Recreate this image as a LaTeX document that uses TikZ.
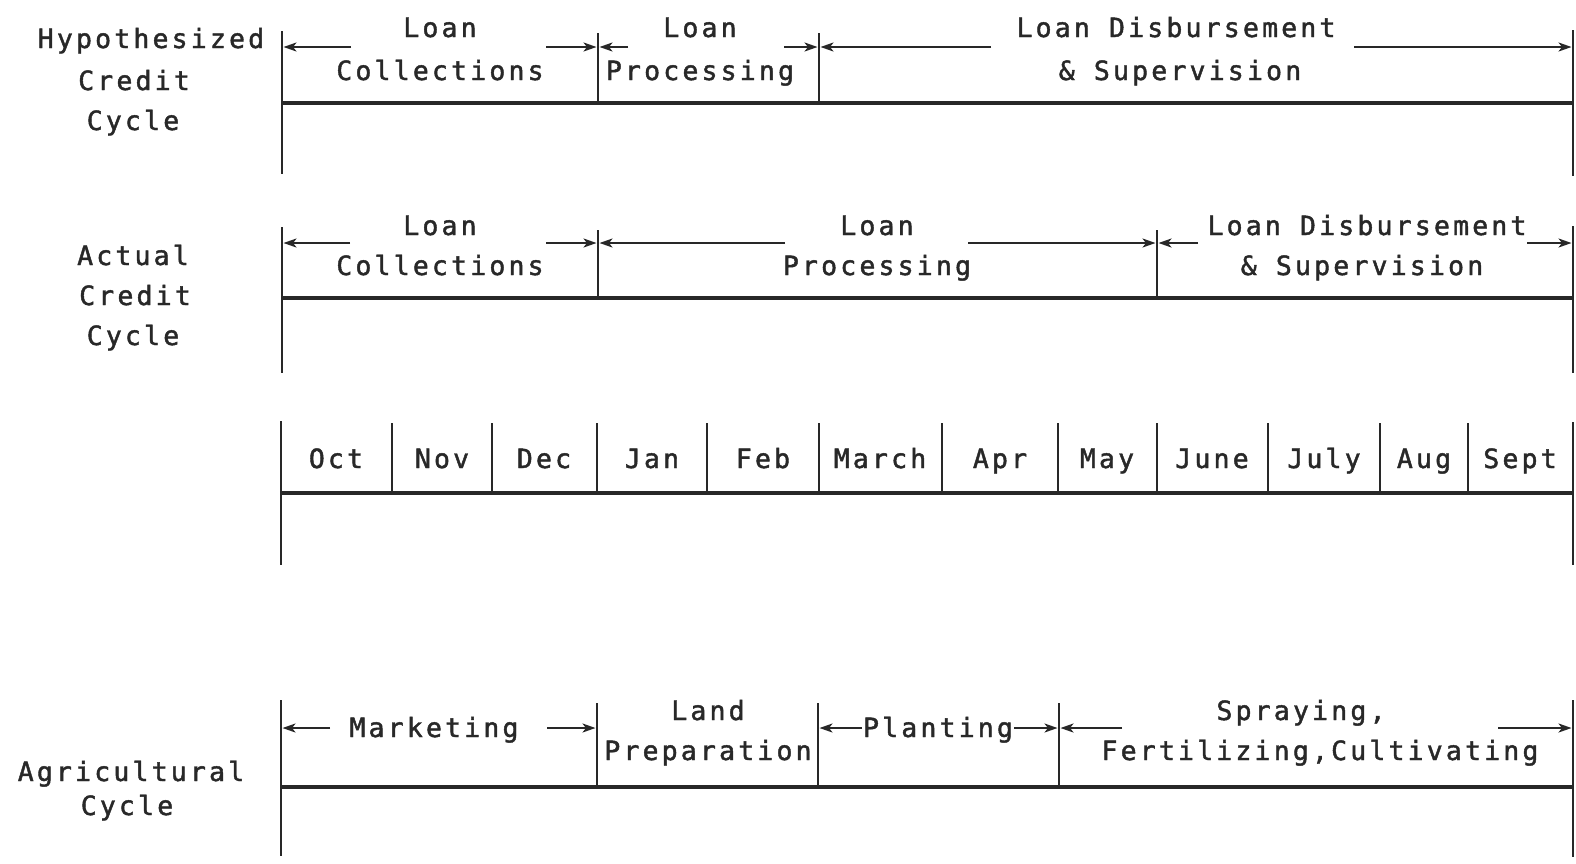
\documentclass[tikz,border=0pt]{standalone}
\usepackage{fontspec}
\newfontfamily\mono[LetterSpace=12,FakeBold=1.6]{DejaVu Sans Mono}
\usetikzlibrary{arrows.meta}
\definecolor{ink}{RGB}{40,40,40}
\begin{document}
\begin{tikzpicture}[x=1pt,y=-1pt,
  lbl/.style={font=\mono\fontsize{26.5}{31}\selectfont, text=ink, anchor=base, inner sep=0pt},
  axis/.style={line width=3.4pt, draw=ink},
  tick/.style={line width=2.4pt, draw=ink},
  dim/.style={line width=2.1pt, draw=ink, -{Stealth[length=13pt,width=9pt,inset=3.5pt]}}]
\useasboundingbox (0,0) rectangle (1576,863);
\fill[white] (0,0) rectangle (1576,863);

% ---------------- Row 1: Hypothesized Credit Cycle
\node[lbl] (hl1) at (151,48) {Hypothesized};
\node[lbl] (hl2) at (134,90) {Credit};
\node[lbl] (hl3) at (133,130) {Cycle};
\coordinate (a0t) at (282,31);  \coordinate (a0b) at (282,174);
\coordinate (a1t) at (598,33);  \coordinate (a1m) at (598,103);
\coordinate (a2t) at (819,33);  \coordinate (a2m) at (819,103);
\coordinate (a3t) at (1573,30); \coordinate (a3b) at (1573,176);
\draw[tick] (a0t) -- (a0b);
\draw[tick] (a3t) -- (a3b);
\draw[tick] (a1t) -- (a1m);
\draw[tick] (a2t) -- (a2m);
\draw[axis] (a0t |- a1m) -- (a3t |- a1m);
\node[lbl] (h1a) at (440,37) {Loan};
\node[lbl] (h1b) at (440,80) {Collections};
\node[lbl] (h2a) at (700,37) {Loan};
\node[lbl] (h2b) at (700,80) {Processing};
\node[lbl] (h3a) at (1176,37) {Loan Disbursement};
\node[lbl] (h3b) at (1180,80) {\& Supervision};
\draw[dim] (351,47) -- (283.5,47);
\draw[dim] (546,47) -- (596.5,47);
\draw[dim] (628,47) -- (599.5,47);
\draw[dim] (784,47) -- (817.5,47);
\draw[dim] (991,47) -- (820.5,47);
\draw[dim] (1354,47) -- (1571.5,47);

% ---------------- Row 2: Actual Credit Cycle
\node[lbl] (cl1) at (133,265) {Actual};
\node[lbl] (cl2) at (135,305) {Credit};
\node[lbl] (cl3) at (133,345) {Cycle};
\coordinate (b0t) at (282,227);  \coordinate (b0b) at (282,373);
\coordinate (b1t) at (598,230);  \coordinate (b1m) at (598,298);
\coordinate (b2t) at (1157,230); \coordinate (b2m) at (1157,298);
\coordinate (b3t) at (1573,226); \coordinate (b3b) at (1573,373);
\draw[tick] (b0t) -- (b0b);
\draw[tick] (b3t) -- (b3b);
\draw[tick] (b1t) -- (b1m);
\draw[tick] (b2t) -- (b2m);
\draw[axis] (b0t |- b1m) -- (b3t |- b1m);
\node[lbl] (c1a) at (440,235) {Loan};
\node[lbl] (c1b) at (440,275) {Collections};
\node[lbl] (c2a) at (877,235) {Loan};
\node[lbl] (c2b) at (877,275) {Processing};
\node[lbl] (c3a) at (1367,235) {Loan Disbursement};
\node[lbl] (c3b) at (1362,275) {\& Supervision};
\draw[dim] (350,243) -- (283.5,243);
\draw[dim] (546,243) -- (596.5,243);
\draw[dim] (785,243) -- (599.5,243);
\draw[dim] (968,243) -- (1155.5,243);
\draw[dim] (1198,243) -- (1158.5,243);
\draw[dim] (1527,243) -- (1571.5,243);

% ---------------- Row 3: months
\coordinate (m0t) at (281,421); \coordinate (m0b) at (281,565);
\coordinate (m12t) at (1573,422); \coordinate (m12b) at (1573,565);
\coordinate (mm) at (281,493);
\draw[tick] (m0t) -- (m0b);
\draw[tick] (m12t) -- (m12b);
\draw[axis] (mm) -- (m12t |- mm);
\foreach \x/\n in {392/m1,492/m2,597/m3,707/m4,819/m5,942/m6,1058/m7,1157/m8,1268/m9,1380/m10,1468/m11}{
  \coordinate (\n) at (\x,423);
  \draw[tick] (\n) -- (\n |- mm);
}
\foreach \x/\t/\n in {336/Oct/oct,442/Nov/nov,544/Dec/dec,652/Jan/jan,763/Feb/feb,880/March/mar,1000/Apr/apr,1107/May/may,1212/June/jun,1324/July/jul,1424/Aug/aug,1520/Sept/sep}{
  \node[lbl] (\n) at (\x,468) {\t};
}

% ---------------- Row 4: Agricultural Cycle
\node[lbl] (gl1) at (131,781) {Agricultural};
\node[lbl] (gl2) at (127,815) {Cycle};
\coordinate (d0t) at (281,700);  \coordinate (d0b) at (281,856);
\coordinate (d1t) at (597,703);  \coordinate (d1m) at (597,787);
\coordinate (d2t) at (818,703);  \coordinate (d2m) at (818,787);
\coordinate (d3t) at (1059,703); \coordinate (d3m) at (1059,787);
\coordinate (d4t) at (1573,700); \coordinate (d4b) at (1573,857);
\draw[tick] (d0t) -- (d0b);
\draw[tick] (d4t) -- (d4b);
\draw[tick] (d1t) -- (d1m);
\draw[tick] (d2t) -- (d2m);
\draw[tick] (d3t) -- (d3m);
\draw[axis] (d0t |- d1m) -- (d4t |- d1m);
\node[lbl] (g1) at (434,737) {Marketing};
\node[lbl] (g2a) at (708,720) {Land};
\node[lbl] (g2b) at (708,760) {Preparation};
\node[lbl] (g3) at (938,737) {Planting};
\node[lbl] (g4a) at (1301,720) {Spraying,};
\node[lbl] (g4b) at (1320,760) {Fertilizing,Cultivating};
\draw[dim] (330,728) -- (282.5,728);
\draw[dim] (547,728) -- (595.5,728);
\draw[dim] (862,728) -- (819.5,728);
\draw[dim] (1014,728) -- (1057.5,728);
\draw[dim] (1122,728) -- (1060.5,728);
\draw[dim] (1498,728) -- (1571.5,728);
\end{tikzpicture}
\end{document}
